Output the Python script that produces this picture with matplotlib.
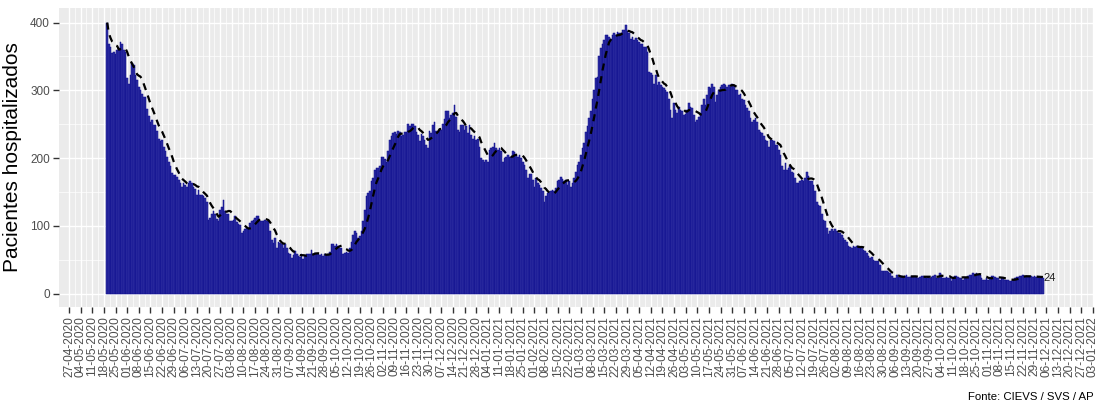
import numpy as np
import pandas as pd
import matplotlib
matplotlib.use("Agg")
import matplotlib.pyplot as plt

plt.rcParams["font.family"] = ["Liberation Sans", "DejaVu Sans"]

PANEL_BG = "#EBEBEB"
BAR_FILL = "#3030A2"
BAR_EDGE = "#0A0A8C"
TICK_TEXT = "#4D4D4D"
TICK_MARK = "#333333"

FIRST_DAY = "2020-05-20"

# daily hospitalised patients
hosp_2020_may_sep = [
    400, 368, 364, 355, 357, 354, 360, 363, 372, 368,
    360, 356, 318, 310, 322, 340, 337, 322, 316, 305,
    300, 294, 290, 290, 273, 262, 254, 256, 249, 249,
    240, 229, 225, 227, 217, 210, 202, 195, 189, 178,
    175, 175, 172, 168, 163, 157, 163, 160, 158, 163,
    167, 163, 158, 154, 146, 153, 146, 146, 144, 142,
    136, 109, 112, 117, 122, 117, 110, 108, 124, 128,
    139, 122, 117, 117, 107, 107, 109, 114, 106, 103,
    102, 90, 92, 95, 97, 95, 104, 108, 109, 112,
    114, 114, 108, 107, 108, 109, 108, 107, 92, 80,
    75, 82, 68, 77, 75, 73, 68,
]
hosp_2020_sep_dec = [
    73, 68, 60, 58, 53, 57, 63, 59, 55, 54,
    58, 52, 55, 58, 59, 58, 65, 59, 60, 58,
    59, 57, 58, 55, 59, 57, 59, 62, 73, 74,
    70, 74, 70, 68, 68, 58, 60, 62, 60, 68,
    77, 87, 92, 90, 83, 85, 92, 108, 123, 144,
    149, 151, 166, 171, 183, 186, 186, 188, 202, 201,
    199, 195, 210, 227, 232, 237, 239, 235, 240, 238,
    232, 234, 238, 239, 251, 247, 250, 250, 247, 239,
    234, 225, 235, 233, 227, 220, 215, 240, 237, 249,
    253, 240, 239, 242, 242, 251, 258, 270, 269, 259,
    264, 266, 278, 261, 242, 239, 249, 249, 242, 247,
    237,
]
hosp_2020_dec_2021_apr = [
    249, 234, 229, 232, 227, 229, 216, 200, 198, 195,
    198, 195, 212, 215, 217, 222, 215, 212, 215, 210,
    195, 200, 202, 205, 202, 202, 210, 209, 205, 202,
    205, 200, 195, 190, 183, 171, 176, 176, 168, 158,
    171, 163, 161, 156, 151, 136, 144, 149, 150, 151,
    153, 152, 156, 166, 168, 172, 170, 166, 168, 161,
    166, 158, 163, 171, 180, 190, 195, 205, 215, 222,
    239, 247, 259, 269, 288, 300, 318, 320, 350, 362,
    369, 374, 381, 382, 379, 376, 381, 384, 381, 386,
    384, 384, 389, 389, 396, 387, 384, 376, 379, 374,
    377, 374, 372, 368, 369, 364, 364, 357, 327, 325,
    323, 310,
]
hosp_2021_apr_aug = [
    323, 308, 313, 308, 305, 303, 300, 298, 288, 271,
    259, 281, 271, 266, 276, 271, 269, 264, 265, 271,
    281, 276, 274, 264, 254, 256, 261, 266, 278, 288,
    278, 293, 305, 303, 309, 305, 283, 293, 300, 305,
    308, 310, 308, 305, 308, 305, 310, 308, 300, 300,
    293, 295, 288, 286, 278, 274, 269, 259, 254, 256,
    259, 254, 242, 239, 237, 232, 227, 225, 217, 227,
    227, 225, 220, 220, 212, 205, 188, 183, 193, 183,
    185, 188, 180, 178, 171, 163, 163, 166, 168, 166,
    171, 180, 173, 166, 166, 161, 151, 136, 131, 129,
    117, 109, 107, 97, 88, 92, 95, 92, 95, 93,
    90,
]
hosp_2021_aug_dec = [
    90, 87, 83, 80, 77, 70, 69, 68, 70, 69,
    70, 69, 68, 69, 65, 63, 60, 55, 53, 54,
    50, 48, 48, 49, 42, 34, 34, 33, 33, 32,
    31, 26, 24, 24, 27, 25, 25, 26, 24, 26,
    27, 25, 25, 26, 26, 25, 25, 24, 25, 26,
    26, 25, 24, 25, 24, 25, 26, 28, 24, 24,
    31, 28, 24, 24, 25, 24, 24, 19, 24, 26,
    26, 25, 24, 24, 21, 24, 25, 26, 28, 28,
    31, 29, 31, 28, 28, 24, 21, 21, 24, 20,
    24, 26, 26, 25, 24, 23, 21, 23, 24, 21,
    21, 20, 19, 19, 21, 24, 25, 25, 26, 26,
    27, 26, 26, 25, 25, 26, 25, 26, 25, 25,
    24, 24, 24,
]

hosp = (hosp_2020_may_sep + hosp_2020_sep_dec + hosp_2020_dec_2021_apr
        + hosp_2021_apr_aug + hosp_2021_aug_dec)
dates = pd.date_range(FIRST_DAY, periods=len(hosp), freq="D")
# 7 day trailing mean (dashed line)
mm7 = pd.Series(hosp).rolling(7, min_periods=1).mean().values

week_ticks = pd.date_range("2020-04-27", "2022-01-03", freq="7D")
week_labels = [d.strftime("%d-%m-%Y") for d in week_ticks]

fig = plt.figure(figsize=(11.02, 4.03), dpi=100)
ax = fig.add_axes([59 / 1102, (403 - 307) / 403, 1035 / 1102, 299 / 403])
ax.set_facecolor(PANEL_BG)
for spine in ax.spines.values():
    spine.set_visible(False)

ax.bar(dates, hosp, width=1.0, color=BAR_FILL, edgecolor=BAR_EDGE,
       linewidth=0.35, zorder=3)
ax.plot(dates, mm7, color="black", linewidth=1.6, linestyle=(0, (3.2, 2.6)),
        zorder=4)
ax.text(dates[-1], hosp[-1], str(hosp[-1]), ha="left", va="center",
        fontsize=8, color="#222222", zorder=5)

ax.set_xticks(week_ticks)
ax.set_xticklabels(week_labels, rotation=90, fontsize=8.6, color=TICK_TEXT)
ax.set_xticks(week_ticks[:-1] + pd.Timedelta(hours=84), minor=True)
ax.set_yticks([0, 100, 200, 300, 400])
ax.set_yticklabels(["0", "100", "200", "300", "400"], fontsize=8.5, color=TICK_TEXT)
ax.set_yticks([50, 150, 250, 350], minor=True)
ax.tick_params(which="major", length=4, width=1, color=TICK_MARK, pad=2.5)
ax.tick_params(which="minor", length=0)

ax.grid(True, which="major", color="white", linewidth=1.0, zorder=0)
ax.grid(True, which="minor", color="white", linewidth=0.5, zorder=0)
ax.set_axisbelow(True)

ax.set_xlim(pd.Timestamp("2020-04-21"), pd.Timestamp("2022-01-03") + pd.Timedelta(hours=17))
ax.set_ylim(-19.5, 421.5)

ax.set_ylabel("Pacientes hospitalizados", fontsize=15, labelpad=6)
fig.text(1094 / 1102, 1 - 397 / 403, "Fonte: CIEVS / SVS / AP", ha="right",
         va="center", fontsize=8.2)

fig.savefig("out.png", dpi=100)
